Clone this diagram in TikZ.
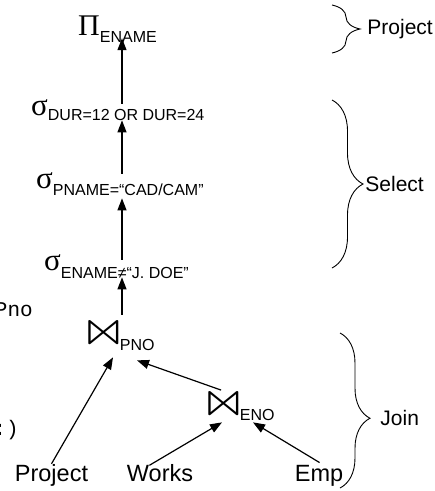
\documentclass[tikz,border=0pt]{standalone}
\usepackage{fontspec}
\setmainfont{Liberation Sans}
\newfontfamily\greekfont{Liberation Serif}
\newfontfamily\codefont{Liberation Mono}
\newfontfamily\symbfont{latinmodern-math.otf}
\usetikzlibrary{arrows.meta, decorations.pathreplacing, positioning}
\tikzstyle{fleche} = [-{Triangle[length=12pt,width=9pt]},line width=1.2pt]
\tikzstyle{accolade} = [decorate,line width=0.9pt]
\tikzstyle{oper} = [inner sep=0pt,anchor=base west]
\tikzstyle{relation} = [inner sep=0pt,anchor=base,font=\fontsize{23.5}{24}\selectfont]
\tikzstyle{etiquette} = [inner sep=0pt,anchor=west,font=\fontsize{21}{22}\selectfont]
\tikzstyle{fragment} = [inner sep=0pt,anchor=base east,font=\codefont\fontsize{21}{22}\selectfont]
\newcommand{\sel}[2]{{\greekfont\fontsize{31}{31}\selectfont σ}\raisebox{-#1pt}{\fontsize{16}{16}\selectfont #2}}
\newcommand{\proj}[2]{{\greekfont\fontsize{30}{30}\selectfont Π}\raisebox{-#1pt}{\fontsize{16}{16}\selectfont #2}}
\newcommand{\jointure}[2]{\raisebox{-2pt}{\scalebox{2.1}[1.7]{\symbfont\fontsize{28}{28}\selectfont ⋈}}\hspace{-2pt}\raisebox{-#1pt}{\fontsize{16}{16}\selectfont #2}}

\begin{document}
\begin{tikzpicture}[x=1pt,y=-1pt]
	\fill[white] (0,0) rectangle (435,491);
	\useasboundingbox (0,0) rectangle (435,491);

	\node[oper] (pi) at (78,35) {\proj{7}{ENAME}};
	\node[oper] (dur) at (31,115) {\sel{5}{DUR=12 OR DUR=24}};
	\node[oper] (pname) at (36,188) {\sel{7}{PNAME=“CAD/CAM”}};
	\node[oper] (ename) at (44,270) {\sel{8}{ENAME≠“J. DOE”}};
	\node[oper] (pno) at (85,342) {\jointure{8}{PNO}};
	\node[oper] (eno) at (205,413) {\jointure{7}{ENO}};

	\node[relation] (project) at (51.5,481) {Project};
	\node[relation] (works) at (160,481) {Works};
	\node[relation] (emp) at (319,481) {Emp};

	\node[fragment] (frag1) at (33,316) {Pno};
	\node[fragment] (frag2) at (19,435) {:)};

	\coordinate (axe) at (122,0);
	\draw[fleche, shorten <=-5pt, shorten >=-4pt] (dur.north -| axe) -- (pi.south -| axe);
	\draw[fleche, shorten <=-2pt] (pname.north -| axe) -- (dur.south -| axe);
	\draw[fleche, shorten <=-6pt, shorten >=3pt] (ename.north -| axe) -- (pname.south -| axe);
	\draw[fleche, shorten <=5pt, shorten >=-1pt] (pno.north -| axe) -- (ename.south -| axe);

	\draw[fleche] (project.north) -- ([xshift=28pt,yshift=-7pt]pno.south west);
	\draw[fleche, shorten <=2pt] ([xshift=18pt]eno.north west) -- ([xshift=52pt,yshift=-10pt]pno.south west);
	\draw[fleche, shorten <=-3pt] ([xshift=-8pt]works.north) -- ([xshift=17pt,yshift=-2pt]eno.south west);
	\draw[fleche, shorten <=4pt] ([xshift=4pt]emp.north) -- ([xshift=48pt,yshift=-2pt]eno.south west);

	\draw[accolade, decoration={brace,amplitude=28pt}] (332,5) -- node[etiquette, pos=0.5, right=35pt] (lproj) {Project} (332,53);
	\draw[accolade, decoration={brace,amplitude=31pt}] (332,100) -- node[etiquette, pos=0.5, right=33pt] (lsel) {Select} (332,268);
	\draw[accolade, decoration={brace,amplitude=30pt,aspect=0.55}] (340,333) -- node[etiquette, pos=0.55, right=40pt] (ljoin) {Join} (340,488);

\end{tikzpicture}
\end{document}
